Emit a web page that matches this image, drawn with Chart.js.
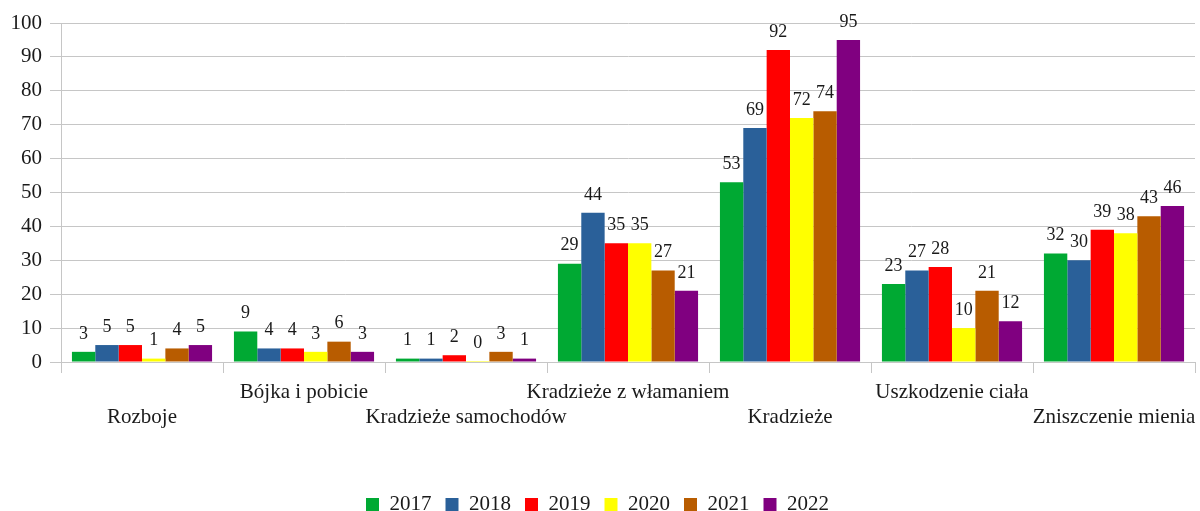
<!DOCTYPE html>
<html>
<head>
<meta charset="utf-8">
<script src="https://cdn.jsdelivr.net/npm/chart.js@4.4.1/dist/chart.umd.min.js"></script>
<style>
    html, body { margin: 0; padding: 0; background: #ffffff; }
    .chart-box { width: 1200px; height: 511px; position: relative; }
</style>
</head>
<body>
<div class="chart-box">
    <canvas id="crimeChart"></canvas>
</div>
<script>
// Categories and yearly values.
const categories = [
    'Rozboje',
    'Bójka i pobicie',
    'Kradzieże samochodów',
    'Kradzieże z włamaniem',
    'Kradzieże',
    'Uszkodzenie ciała',
    'Zniszczenie mienia'
];
const years = ['2017', '2018', '2019', '2020', '2021', '2022'];

const values2017 = [3, 9, 1, 29, 53, 23, 32];
const values2018 = [5, 4, 1, 44, 69, 27, 30];
const values2019 = [5, 4, 2, 35, 92, 28, 39];
const values2020 = [1, 3, 0, 35, 72, 10, 38];
const values2021 = [4, 6, 3, 27, 74, 21, 43];
const values2022 = [5, 3, 1, 21, 95, 12, 46];

const yTicks = [0, 10, 20, 30, 40, 50, 60, 70, 80, 90, 100];

const seriesValues = [values2017, values2018, values2019, values2020, values2021, values2022];
const seriesColors = ['#00a933', '#2a6099', '#ff0000', '#ffff00', '#b85c00', '#800080'];

const gridGray = '#c6c6c6';
const serif = "'Liberation Serif', 'Times New Roman', serif";

// Draws the value above every bar, like the data labels in the original.
const barValueLabels = {
    id: 'barValueLabels',
    afterDatasetsDraw(chart) {
        const ctx = chart.ctx;
        ctx.save();
        ctx.font = '18px ' + serif;
        ctx.fillStyle = '#1a1a1a';
        ctx.textAlign = 'center';
        ctx.textBaseline = 'bottom';
        chart.data.datasets.forEach(function (dataset, i) {
            const meta = chart.getDatasetMeta(i);
            meta.data.forEach(function (bar, j) {
                ctx.fillText(String(dataset.data[j]), bar.x, bar.y - 9);
            });
        });
        ctx.restore();
    }
};

const datasets = years.map(function (year, i) {
    return {
        label: year,
        data: seriesValues[i],
        backgroundColor: seriesColors[i],
        borderWidth: 0,
        minBarLength: 1,
        categoryPercentage: 0.865,
        barPercentage: 1
    };
});

const ctx = document.getElementById('crimeChart').getContext('2d');
const crimeChart = new Chart(ctx, {
    type: 'bar',
    data: {
        labels: categories,
        datasets: datasets
    },
    plugins: [barValueLabels],
    options: {
        responsive: true,
        maintainAspectRatio: false,
        animation: false,
        layout: {
            padding: { top: 23, right: 5, left: 0, bottom: -14 }
        },
        scales: {
            x: {
                offset: true,
                grid: {
                    offset: true,
                    // only the right edge line is visible inside the plot
                    color: function (c) {
                        return c.index === categories.length ? gridGray : 'rgba(0,0,0,0)';
                    },
                    tickColor: gridGray,
                    tickLength: 11,
                    lineWidth: 1
                },
                border: { color: gridGray },
                ticks: {
                    autoSkip: false,
                    maxRotation: 0,
                    minRotation: 0,
                    padding: 7,
                    color: '#1a1a1a',
                    font: { family: serif, size: 21 },
                    // alternate labels between two rows
                    callback: function (value, index) {
                        const name = categories[index];
                        return index % 2 === 0 ? ['', name] : name;
                    }
                },
                afterFit: function (scale) {
                    scale.height = 118;
                    // let the last label hang past the plot edge, as in the original
                    scale.paddingLeft = 0;
                    scale.paddingRight = 0;
                }
            },
            y: {
                min: 0,
                max: 100,
                afterBuildTicks: function (scale) {
                    scale.ticks = yTicks.map(function (v) { return { value: v }; });
                },
                grid: {
                    color: gridGray,
                    tickColor: gridGray,
                    tickLength: 11,
                    lineWidth: 1
                },
                border: { color: gridGray },
                ticks: {
                    padding: 8,
                    color: '#1a1a1a',
                    font: { family: serif, size: 21 }
                },
                afterFit: function (scale) {
                    scale.width = 61;
                }
            }
        },
        plugins: {
            legend: {
                position: 'bottom',
                labels: {
                    boxWidth: 13,
                    boxHeight: 13,
                    padding: 14,
                    color: '#1a1a1a',
                    font: { family: serif, size: 21 }
                }
            },
            tooltip: { enabled: false }
        }
    }
});
</script>
</body>
</html>
